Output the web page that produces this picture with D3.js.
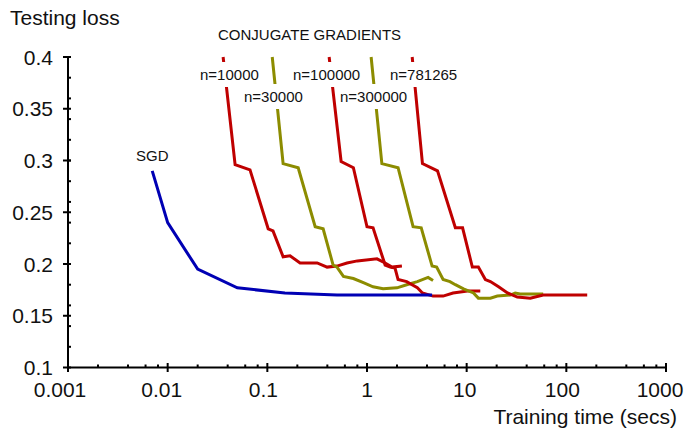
<!DOCTYPE html>
<html>
<head>
<meta charset="utf-8">
<script src="https://cdn.jsdelivr.net/npm/d3@7"></script>
<style>
  body { margin: 0; background: #fff; }
  text { font-family: "Liberation Sans", Arial, sans-serif; fill: #111; }
</style>
</head>
<body>
<svg width="687" height="433"></svg>
<script>
let width = 687,
  height = 433;

// data: [seconds, testing loss]
let sgd = [[0.007, 0.29], [0.01, 0.24], [0.02, 0.195], [0.05, 0.177], [0.15, 0.172], [0.5, 0.17], [4.5, 0.17]];

let cg10000 = [[0.036, 0.4], [0.0475, 0.296], [0.067, 0.291], [0.102, 0.234], [0.114, 0.232], [0.144, 0.207],
  [0.169, 0.208], [0.213, 0.201], [0.316, 0.201], [0.398, 0.197], [0.5, 0.198], [0.63, 0.201], [0.8, 0.203],
  [1.26, 0.205], [1.52, 0.201], [1.78, 0.197], [2.24, 0.198]];

let cg30000 = [[0.112, 0.4], [0.144, 0.297], [0.204, 0.293], [0.302, 0.236], [0.363, 0.234], [0.457, 0.199],
  [0.5, 0.197], [0.58, 0.188], [0.73, 0.186], [0.92, 0.182], [1.15, 0.178], [1.45, 0.176], [2.0, 0.177],
  [2.5, 0.18], [3.2, 0.183], [4.1, 0.187], [4.6, 0.184]];

let cg100000 = [[0.417, 0.4], [0.55, 0.299], [0.73, 0.293], [1.0, 0.236], [1.15, 0.235], [1.52, 0.199],
  [1.71, 0.197], [1.91, 0.196], [2.05, 0.185], [2.5, 0.183], [3.2, 0.177], [3.6, 0.172], [4.6, 0.169],
  [5.8, 0.169], [7.3, 0.172], [10.2, 0.174], [13.7, 0.174]];

let cg300000 = [[1.1, 0.4], [1.41, 0.297], [2.05, 0.293], [2.9, 0.236], [3.5, 0.235], [4.5, 0.198],
  [5.0, 0.197], [5.8, 0.185], [6.8, 0.183], [7.7, 0.18], [9.3, 0.176], [11.7, 0.172], [13.1, 0.167],
  [17.3, 0.167], [20.3, 0.169], [27.4, 0.17], [30.7, 0.172], [34.4, 0.171], [58.6, 0.171]];

let cg781265 = [[2.84, 0.4], [3.6, 0.297], [5.1, 0.29], [7.7, 0.235], [9.1, 0.235], [11.4, 0.197],
  [13.1, 0.197], [15.4, 0.185], [17.3, 0.183], [20.9, 0.178], [25.7, 0.172], [32.2, 0.168], [43.5, 0.167],
  [58.6, 0.17], [87, 0.17], [162, 0.17]];

let xTicks = [0.001, 0.01, 0.1, 1, 10, 100, 1000];
let xTickLabels = ["0.001", "0.01", "0.1", "1", "10", "100", "1000"];
let yTicks = [0.1, 0.15, 0.2, 0.25, 0.3, 0.35, 0.4];
let yTickLabels = ["0.1", "0.15", "0.2", "0.25", "0.3", "0.35", "0.4"];

let series = [
  { data: cg10000, color: "#bf0000" },
  { data: cg30000, color: "#8c8c00" },
  { data: cg100000, color: "#bf0000" },
  { data: cg300000, color: "#8c8c00" },
  { data: cg781265, color: "#bf0000" },
  { data: sgd, color: "#0000b4" }
];

let labels = [
  { text: "n=10000", x: 200, y: 80 },
  { text: "n=30000", x: 244, y: 102 },
  { text: "n=100000", x: 293, y: 80 },
  { text: "n=300000", x: 340, y: 102 },
  { text: "n=781265", x: 390, y: 80 }
];

let svg = d3.select("svg").attr("viewBox", "0 0 " + width + " " + height);

let x = d3.scaleLog().domain([0.001, 1000]).range([68, 666]);
let y = d3.scaleLinear().domain([0.1, 0.4]).range([367.5, 57]);

let line = d3.line()
  .x((d) => x(d[0]))
  .y((d) => y(d[1]));

// curves
svg.append("g")
  .selectAll("path")
  .data(series)
  .enter()
  .append("path")
  .attr("d", (d) => line(d.data))
  .attr("fill", "none")
  .attr("stroke", (d) => d.color)
  .attr("stroke-width", 3)
  .attr("stroke-linejoin", "miter");

// labels with white boxes that mask the lines
let lab = svg.append("g");
labels.forEach((l) => {
  let t = lab.append("text")
    .attr("x", l.x)
    .attr("y", l.y)
    .style("font-size", "15px")
    .text(l.text);
  let b = t.node().getBBox();
  lab.insert("rect", "text")
    .attr("x", b.x - 2)
    .attr("y", l.y - 18)
    .attr("width", b.width + 4)
    .attr("height", 25)
    .attr("fill", "#fff");
});

svg.append("text")
  .attr("x", 218)
  .attr("y", 40)
  .style("font-size", "15px")
  .text("CONJUGATE GRADIENTS");

svg.append("text")
  .attr("x", 136)
  .attr("y", 161)
  .style("font-size", "15px")
  .text("SGD");

// y axis
let yAxis = svg.append("g");
yAxis.append("line")
  .attr("x1", 68).attr("x2", 68)
  .attr("y1", y(0.1)).attr("y2", y(0.4))
  .attr("stroke", "#000").attr("stroke-width", 2);

let yMinor = d3.range(0.12, 0.4, 0.02);
yAxis.selectAll(".minor")
  .data(yMinor)
  .enter()
  .append("line")
  .attr("x1", 68).attr("x2", 71)
  .attr("y1", (d) => y(d)).attr("y2", (d) => y(d))
  .attr("stroke", "#000").attr("stroke-width", 2);

yAxis.selectAll(".major")
  .data(yTicks)
  .enter()
  .append("line")
  .attr("x1", 63).attr("x2", 71)
  .attr("y1", (d) => y(d)).attr("y2", (d) => y(d))
  .attr("stroke", "#000").attr("stroke-width", 2);

yAxis.selectAll("text")
  .data(yTicks)
  .enter()
  .append("text")
  .attr("x", 53)
  .attr("y", (d) => y(d) + 7.5)
  .attr("text-anchor", "end")
  .style("font-size", "21px")
  .text((d, i) => yTickLabels[i]);

// x axis
let xAxis = svg.append("g");
xAxis.append("line")
  .attr("x1", x(0.001)).attr("x2", x(1000))
  .attr("y1", 367.5).attr("y2", 367.5)
  .attr("stroke", "#000").attr("stroke-width", 2);

let xMinor = [];
xTicks.slice(0, -1).forEach((t) => {
  [2, 4, 6, 8].forEach((m) => xMinor.push(t * m));
});

xAxis.selectAll(".minor")
  .data(xMinor)
  .enter()
  .append("line")
  .attr("x1", (d) => x(d)).attr("x2", (d) => x(d))
  .attr("y1", 364.5).attr("y2", 367.5)
  .attr("stroke", "#000").attr("stroke-width", 2);

xAxis.selectAll(".major")
  .data(xTicks)
  .enter()
  .append("line")
  .attr("x1", (d) => x(d)).attr("x2", (d) => x(d))
  .attr("y1", 363).attr("y2", 372)
  .attr("stroke", "#000").attr("stroke-width", 2);

xAxis.selectAll("text")
  .data(xTicks)
  .enter()
  .append("text")
  .attr("x", (d, i) => x(d) - 2 * (xTickLabels[i].length - 1))
  .attr("y", 397)
  .attr("text-anchor", "middle")
  .style("font-size", "21px")
  .text((d, i) => xTickLabels[i]);

// axis titles
svg.append("text")
  .attr("x", 10)
  .attr("y", 25)
  .style("font-size", "21px")
  .text("Testing loss");

svg.append("text")
  .attr("x", 677)
  .attr("y", 424)
  .attr("text-anchor", "end")
  .style("font-size", "21px")
  .text("Training time (secs)");
</script>
</body>
</html>
